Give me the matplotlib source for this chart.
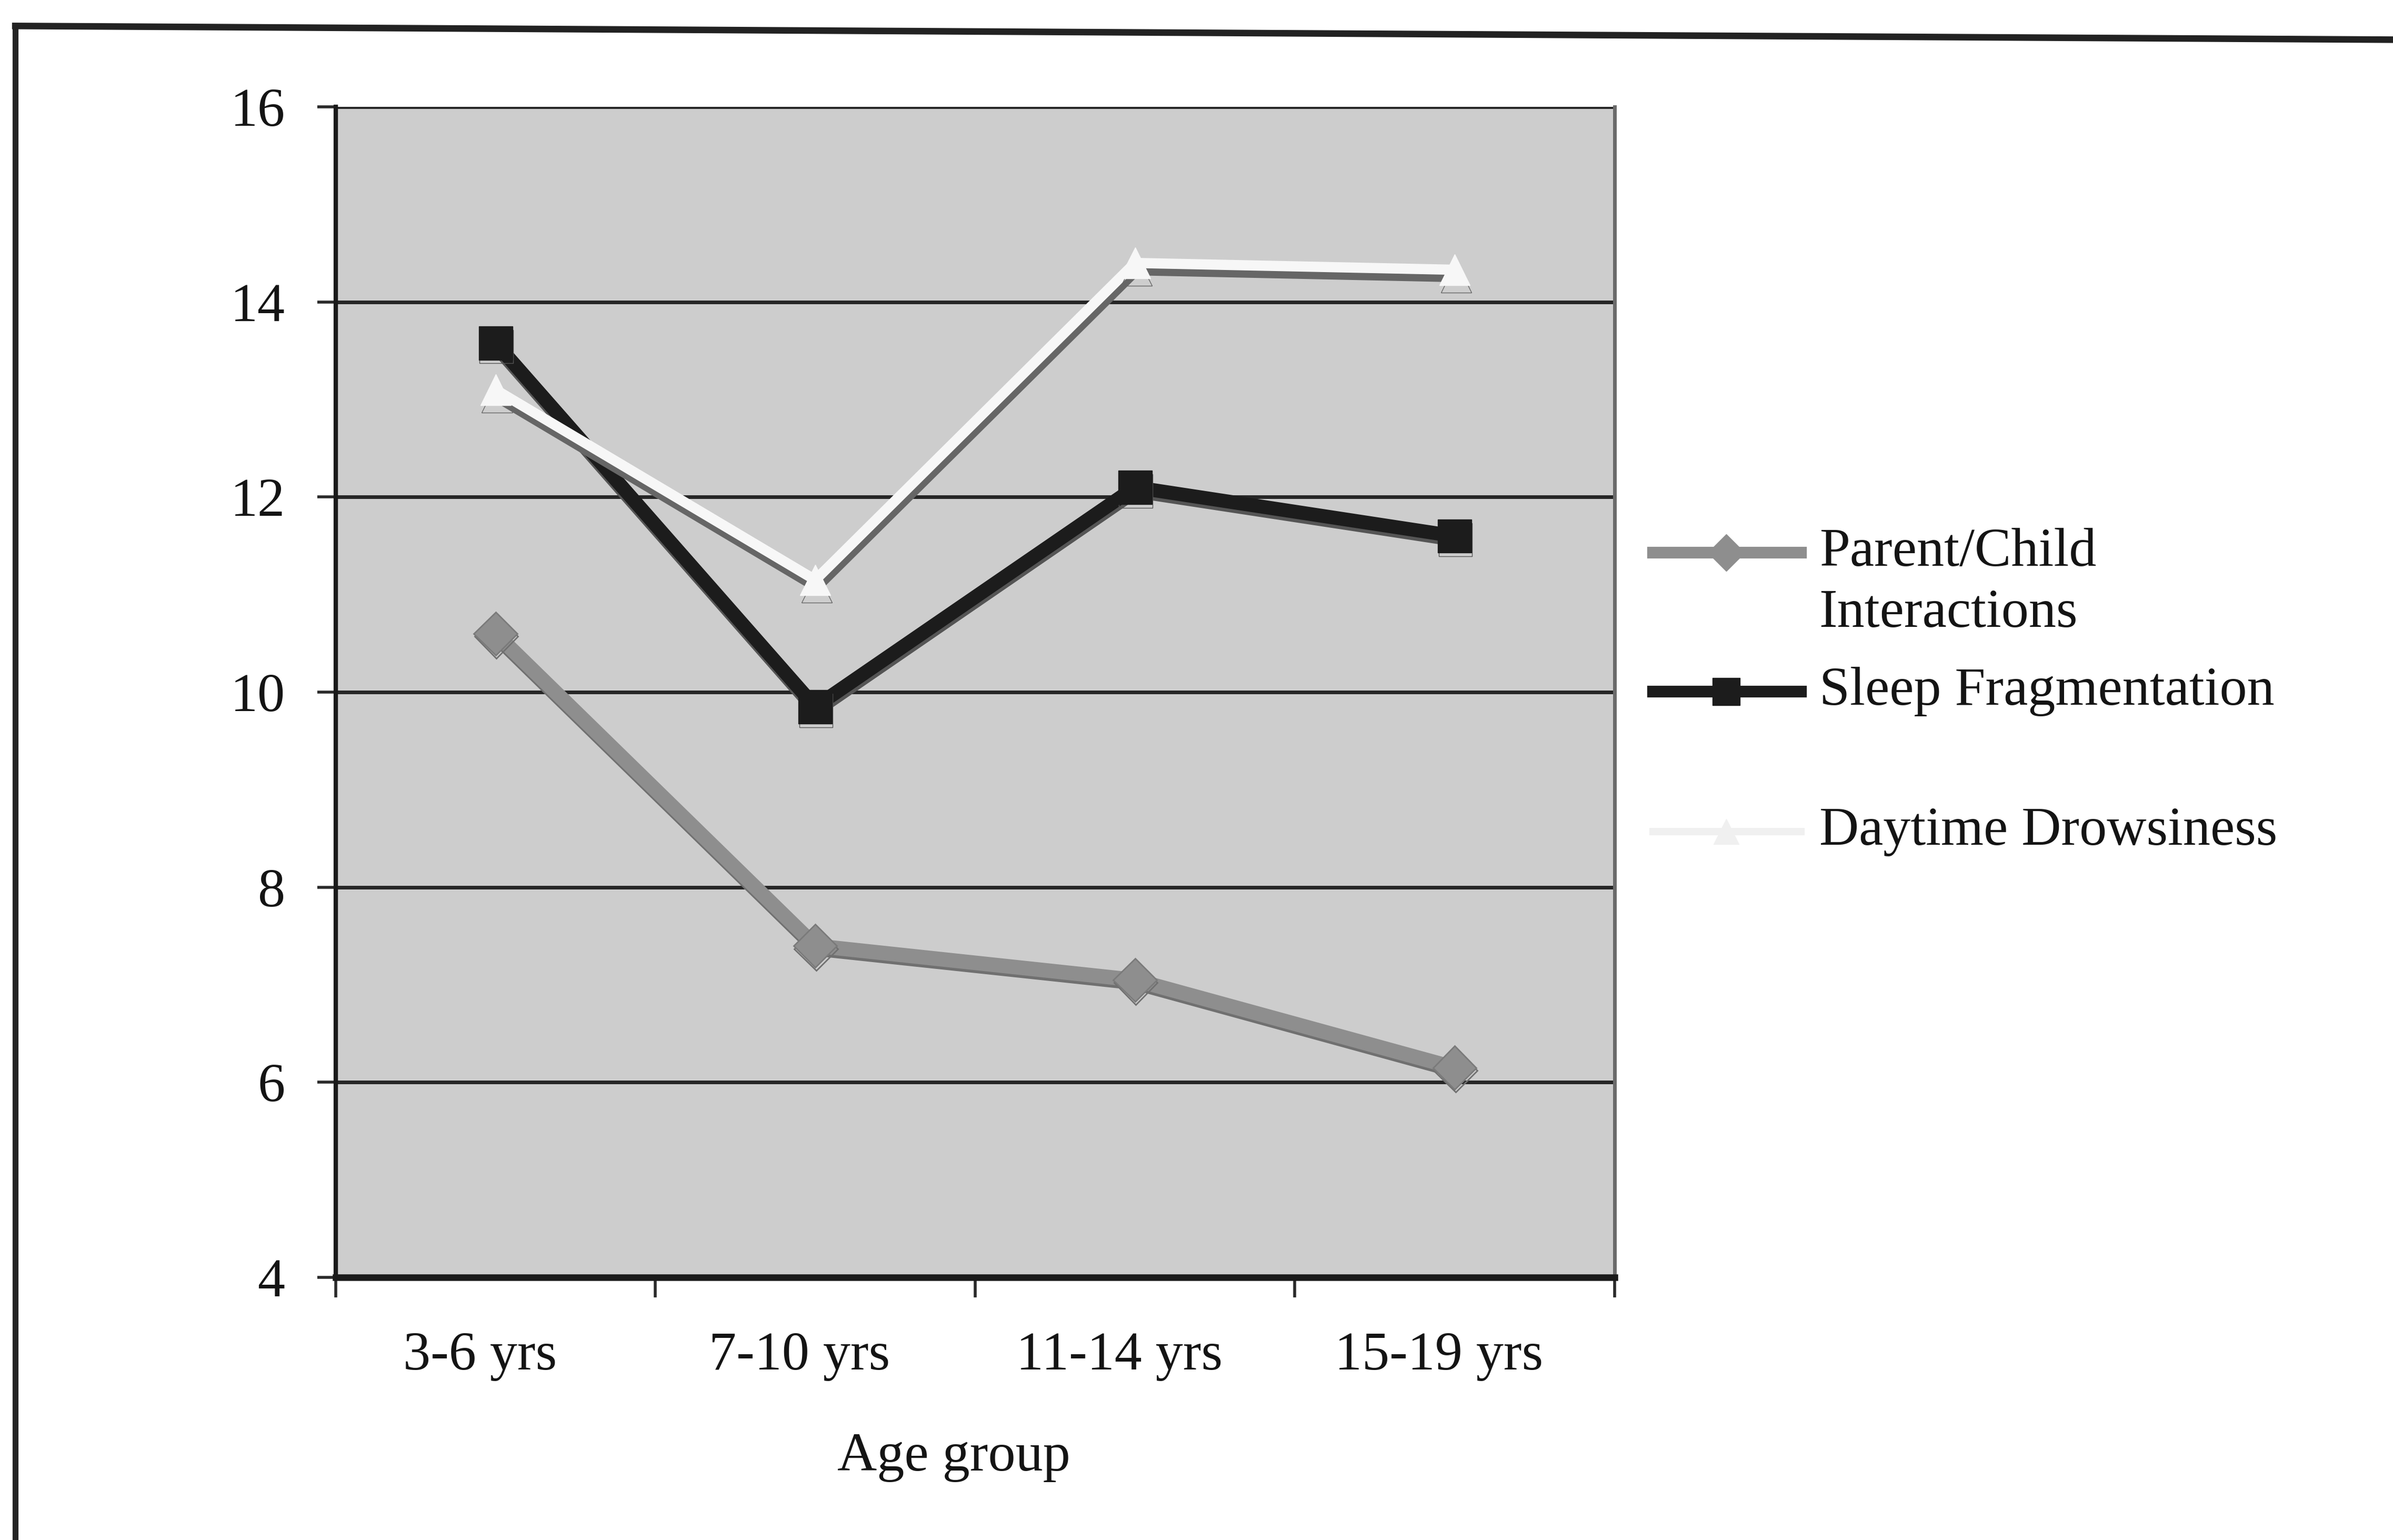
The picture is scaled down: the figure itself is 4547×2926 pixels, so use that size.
import matplotlib
matplotlib.use('Agg')
import matplotlib.pyplot as plt
import matplotlib.patheffects as pe
from matplotlib.lines import Line2D
from matplotlib.transforms import ScaledTranslation
import numpy as np

plt.rcParams['font.family'] = ['Liberation Serif', 'DejaVu Serif']

# Data
age_groups = ['3-6 yrs', '7-10 yrs', '11-14 yrs', '15-19 yrs']
parent_child = [10.6, 7.4, 7.05, 6.15]
sleep_frag = [13.58, 9.85, 12.1, 11.6]
daytime_drowsy = [13.1, 11.15, 14.4, 14.33]
y_ticks = [4, 6, 8, 10, 12, 14, 16]

TXT = '#141414'
FS = 75

fig = plt.figure(figsize=(45.47, 29.26), dpi=100)
ax = fig.add_axes([0.1403, 0.1705, 0.5344, 0.7601])
ax.set_facecolor('#cdcdcd')

x = np.arange(len(age_groups))

# Lines
ax.plot(x, parent_child, color='#8e8e8e', lw=20, marker='D', ms=42,
        mfc='#8e8e8e', mec='#7a7a7a', mew=2, zorder=3,
        path_effects=[pe.SimpleLineShadow(offset=(1, -4), shadow_color='#707070', alpha=1),
                      pe.Normal()])
ax.plot(x, sleep_frag, color='#1c1c1c', lw=19, marker='s', ms=46,
        mfc='#1c1c1c', mec='#1c1c1c', zorder=4,
        path_effects=[pe.SimpleLineShadow(offset=(1, -5), shadow_color='#555555', alpha=1),
                      pe.Normal()])
ax.plot(x, daytime_drowsy, color='#f7f7f7', lw=14, marker='^', ms=42,
        mfc='#f7f7f7', mec='#f7f7f7', zorder=5,
        path_effects=[pe.SimpleLineShadow(offset=(2, -10), shadow_color='#666666', alpha=1),
                      pe.Normal()])

# Axes, grid
ax.set_xlim(-0.5, len(age_groups) - 0.5)
ax.set_ylim(4, 16)
ax.set_yticks(y_ticks)
ax.set_yticklabels([str(t) for t in y_ticks], fontsize=FS, color=TXT)
ax.yaxis.grid(True, color='#262626', lw=5)
ax.set_axisbelow(True)

ax.set_xticks(np.arange(len(age_groups) + 1) - 0.5)
ax.set_xticklabels([])
ax.set_xticks(x, minor=True)
ax.set_xticklabels(age_groups, minor=True, fontsize=FS, color=TXT)
ax.tick_params(axis='x', which='major', length=27, width=4, color='#2a2a2a', direction='out')
ax.tick_params(axis='x', which='minor', length=0, pad=74)
ax.tick_params(axis='y', length=25, width=4, color='#2a2a2a', direction='out', pad=44)
# the category labels sit a little left of the category centres
for lab in ax.get_xticklabels(minor=True):
    lab.set_transform(lab.get_transform() + ScaledTranslation(-0.3, 0, fig.dpi_scale_trans))

ax.spines['top'].set_visible(False)
ax.spines['left'].set_linewidth(6)
ax.spines['left'].set_color('#1a1a1a')
ax.spines['bottom'].set_linewidth(9)
ax.spines['bottom'].set_color('#1a1a1a')
ax.spines['right'].set_linewidth(5)
ax.spines['right'].set_color('#6a6a6a')

fig.text(0.3986, 0.0535, 'Age group', fontsize=FS, color=TXT, ha='center', va='center')

# Legend built by hand so the first handle sits on the first text line
legend_items = [
    (['Parent/Child', 'Interactions'], dict(color='#8e8e8e', lw=16, marker='D', ms=36, mfc='#8e8e8e', mec='#8e8e8e')),
    (['Sleep Fragmentation'], dict(color='#1c1c1c', lw=16, marker='s', ms=38, mfc='#1c1c1c', mec='#1c1c1c')),
    (['Daytime Drowsiness'], dict(color='#f0f0f0', lw=10, marker='^', ms=34, mfc='#f0f0f0', mec='#f0f0f0')),
]
leg_y = [0.6412, 0.5510, 0.4600]
line_gap = 0.0396
for (labels, style), yy in zip(legend_items, leg_y):
    fig.add_artist(Line2D([0.6907, 0.7213, 0.7526], [yy, yy, yy], markevery=[1],
                          transform=fig.transFigure, **style))
    for i, lab in enumerate(labels):
        fig.text(0.7602, yy - i * line_gap, lab, fontsize=FS, color=TXT,
                 ha='left', va='center')

# Outer frame of the scanned figure
fig.add_artist(Line2D([0.0064, 1.0], [1 - 17 / 1009, 1 - 26 / 1009],
                      transform=fig.transFigure, color='#222222', lw=9))
fig.add_artist(Line2D([0.0064, 0.0064], [1 - 17 / 1009, 0.0],
                      transform=fig.transFigure, color='#222222', lw=8))

fig.savefig('out.png', dpi=100, facecolor='white')
